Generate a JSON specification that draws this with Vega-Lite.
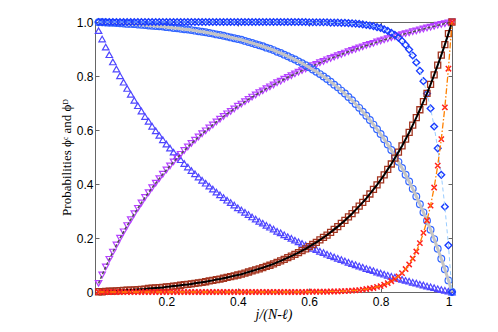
{
  "$schema": "https://vega.github.io/schema/vega-lite/v6.json",
  "autosize": "none",
  "padding": {"left": 95, "top": 22, "right": 46, "bottom": 40},
  "width": 357,
  "height": 270,
  "background": "white",
  "config": {
    "view": {"stroke": null},
    "point": {"opacity": 1},
    "axis": {
      "grid": false,
      "domainColor": "#666666",
      "tickColor": "#666666",
      "tickSize": -4,
      "labelFont": "Liberation Sans",
      "labelFontSize": 12,
      "labelColor": "#000000",
      "titleFont": "Liberation Serif",
      "titleFontSize": 13,
      "titleFontWeight": "normal",
      "titleColor": "#000000"
    }
  },
  "data": {"values": [
    {"x":0.01,"p":0.032,"t":0.968,"s":0.001,"c":0.999,"r":0,"d":1},
    {"x":0.02,"p":0.063,"t":0.937,"s":0.001,"c":0.999,"r":0,"d":1},
    {"x":0.03,"p":0.093,"t":0.907,"s":0.002,"c":0.998,"r":0,"d":1},
    {"x":0.04,"p":0.121,"t":0.879,"s":0.003,"c":0.997,"r":0,"d":1},
    {"x":0.05,"p":0.148,"t":0.852,"s":0.003,"c":0.997,"r":0,"d":1},
    {"x":0.06,"p":0.174,"t":0.826,"s":0.004,"c":0.996,"r":0,"d":1},
    {"x":0.07,"p":0.199,"t":0.801,"s":0.005,"c":0.995,"r":0,"d":1},
    {"x":0.08,"p":0.223,"t":0.777,"s":0.006,"c":0.994,"r":0,"d":1},
    {"x":0.09,"p":0.246,"t":0.754,"s":0.007,"c":0.993,"r":0,"d":1},
    {"x":0.10,"p":0.268,"t":0.732,"s":0.007,"c":0.993,"r":0,"d":1},
    {"x":0.11,"p":0.290,"t":0.710,"s":0.008,"c":0.992,"r":0,"d":1},
    {"x":0.12,"p":0.310,"t":0.690,"s":0.009,"c":0.991,"r":0,"d":1},
    {"x":0.13,"p":0.330,"t":0.670,"s":0.010,"c":0.990,"r":0,"d":1},
    {"x":0.14,"p":0.350,"t":0.650,"s":0.011,"c":0.989,"r":0,"d":1},
    {"x":0.15,"p":0.368,"t":0.632,"s":0.013,"c":0.987,"r":0,"d":1},
    {"x":0.16,"p":0.386,"t":0.614,"s":0.014,"c":0.986,"r":0,"d":1},
    {"x":0.17,"p":0.403,"t":0.597,"s":0.015,"c":0.985,"r":0,"d":1},
    {"x":0.18,"p":0.420,"t":0.580,"s":0.016,"c":0.984,"r":0,"d":1},
    {"x":0.19,"p":0.436,"t":0.564,"s":0.017,"c":0.983,"r":0,"d":1},
    {"x":0.20,"p":0.452,"t":0.548,"s":0.019,"c":0.981,"r":0,"d":1},
    {"x":0.21,"p":0.467,"t":0.533,"s":0.020,"c":0.980,"r":0,"d":1},
    {"x":0.22,"p":0.482,"t":0.518,"s":0.022,"c":0.978,"r":0,"d":1},
    {"x":0.23,"p":0.496,"t":0.504,"s":0.023,"c":0.977,"r":0,"d":1},
    {"x":0.24,"p":0.510,"t":0.490,"s":0.025,"c":0.975,"r":0,"d":1},
    {"x":0.25,"p":0.524,"t":0.476,"s":0.027,"c":0.973,"r":0,"d":1},
    {"x":0.26,"p":0.537,"t":0.463,"s":0.028,"c":0.972,"r":0,"d":1},
    {"x":0.27,"p":0.550,"t":0.450,"s":0.030,"c":0.970,"r":0,"d":1},
    {"x":0.28,"p":0.562,"t":0.438,"s":0.032,"c":0.968,"r":0,"d":1},
    {"x":0.29,"p":0.574,"t":0.426,"s":0.034,"c":0.966,"r":0,"d":1},
    {"x":0.30,"p":0.586,"t":0.414,"s":0.036,"c":0.964,"r":0,"d":1},
    {"x":0.31,"p":0.597,"t":0.403,"s":0.038,"c":0.962,"r":0,"d":1},
    {"x":0.32,"p":0.608,"t":0.392,"s":0.041,"c":0.959,"r":0,"d":1},
    {"x":0.33,"p":0.619,"t":0.381,"s":0.043,"c":0.957,"r":0,"d":1},
    {"x":0.34,"p":0.630,"t":0.370,"s":0.046,"c":0.954,"r":0,"d":1},
    {"x":0.35,"p":0.640,"t":0.360,"s":0.048,"c":0.952,"r":0,"d":1},
    {"x":0.36,"p":0.650,"t":0.350,"s":0.051,"c":0.949,"r":0,"d":1},
    {"x":0.37,"p":0.660,"t":0.340,"s":0.054,"c":0.946,"r":0,"d":1},
    {"x":0.38,"p":0.669,"t":0.331,"s":0.057,"c":0.943,"r":0,"d":1},
    {"x":0.39,"p":0.678,"t":0.322,"s":0.060,"c":0.940,"r":0,"d":1},
    {"x":0.40,"p":0.688,"t":0.312,"s":0.063,"c":0.937,"r":0,"d":1},
    {"x":0.41,"p":0.696,"t":0.304,"s":0.066,"c":0.934,"r":0,"d":1},
    {"x":0.42,"p":0.705,"t":0.295,"s":0.070,"c":0.930,"r":0,"d":1},
    {"x":0.43,"p":0.713,"t":0.287,"s":0.074,"c":0.926,"r":0,"d":1},
    {"x":0.44,"p":0.722,"t":0.278,"s":0.078,"c":0.922,"r":0,"d":1},
    {"x":0.45,"p":0.730,"t":0.270,"s":0.082,"c":0.918,"r":0,"d":1},
    {"x":0.46,"p":0.738,"t":0.262,"s":0.086,"c":0.914,"r":0,"d":1},
    {"x":0.47,"p":0.745,"t":0.255,"s":0.090,"c":0.910,"r":0,"d":1},
    {"x":0.48,"p":0.753,"t":0.247,"s":0.095,"c":0.905,"r":0,"d":1},
    {"x":0.49,"p":0.760,"t":0.240,"s":0.099,"c":0.901,"r":0,"d":1},
    {"x":0.50,"p":0.767,"t":0.233,"s":0.104,"c":0.896,"r":0,"d":1},
    {"x":0.51,"p":0.775,"t":0.225,"s":0.110,"c":0.890,"r":0,"d":1},
    {"x":0.52,"p":0.781,"t":0.219,"s":0.115,"c":0.885,"r":0,"d":1},
    {"x":0.53,"p":0.788,"t":0.212,"s":0.121,"c":0.879,"r":0,"d":1},
    {"x":0.54,"p":0.795,"t":0.205,"s":0.127,"c":0.873,"r":0,"d":1},
    {"x":0.55,"p":0.801,"t":0.199,"s":0.133,"c":0.867,"r":0,"d":1},
    {"x":0.56,"p":0.808,"t":0.192,"s":0.139,"c":0.861,"r":0,"d":1},
    {"x":0.57,"p":0.814,"t":0.186,"s":0.146,"c":0.854,"r":0,"d":1},
    {"x":0.58,"p":0.820,"t":0.180,"s":0.153,"c":0.847,"r":0,"d":1},
    {"x":0.59,"p":0.826,"t":0.174,"s":0.160,"c":0.840,"r":0,"d":1},
    {"x":0.60,"p":0.832,"t":0.168,"s":0.168,"c":0.832,"r":0.001,"d":0.999},
    {"x":0.61,"p":0.838,"t":0.162,"s":0.176,"c":0.824,"r":0.001,"d":0.999},
    {"x":0.62,"p":0.843,"t":0.157,"s":0.184,"c":0.816,"r":0.001,"d":0.999},
    {"x":0.63,"p":0.849,"t":0.151,"s":0.193,"c":0.807,"r":0.001,"d":0.999},
    {"x":0.64,"p":0.854,"t":0.146,"s":0.202,"c":0.798,"r":0.001,"d":0.999},
    {"x":0.65,"p":0.860,"t":0.140,"s":0.211,"c":0.789,"r":0.001,"d":0.999},
    {"x":0.66,"p":0.865,"t":0.135,"s":0.221,"c":0.779,"r":0.002,"d":0.998},
    {"x":0.67,"p":0.870,"t":0.130,"s":0.232,"c":0.768,"r":0.002,"d":0.998},
    {"x":0.68,"p":0.875,"t":0.125,"s":0.242,"c":0.758,"r":0.002,"d":0.998},
    {"x":0.69,"p":0.880,"t":0.120,"s":0.254,"c":0.746,"r":0.003,"d":0.997},
    {"x":0.70,"p":0.885,"t":0.115,"s":0.265,"c":0.735,"r":0.003,"d":0.997},
    {"x":0.71,"p":0.890,"t":0.110,"s":0.278,"c":0.722,"r":0.004,"d":0.996},
    {"x":0.72,"p":0.895,"t":0.105,"s":0.290,"c":0.710,"r":0.005,"d":0.995},
    {"x":0.73,"p":0.899,"t":0.101,"s":0.304,"c":0.696,"r":0.006,"d":0.994},
    {"x":0.74,"p":0.904,"t":0.096,"s":0.318,"c":0.682,"r":0.007,"d":0.993},
    {"x":0.75,"p":0.908,"t":0.092,"s":0.332,"c":0.668,"r":0.009,"d":0.991},
    {"x":0.76,"p":0.913,"t":0.087,"s":0.347,"c":0.653,"r":0.011,"d":0.989},
    {"x":0.77,"p":0.917,"t":0.083,"s":0.363,"c":0.637,"r":0.013,"d":0.987},
    {"x":0.78,"p":0.921,"t":0.079,"s":0.380,"c":0.620,"r":0.015,"d":0.985},
    {"x":0.79,"p":0.926,"t":0.074,"s":0.397,"c":0.603,"r":0.019,"d":0.981},
    {"x":0.80,"p":0.930,"t":0.070,"s":0.415,"c":0.585,"r":0.022,"d":0.978},
    {"x":0.81,"p":0.934,"t":0.066,"s":0.434,"c":0.566,"r":0.027,"d":0.973},
    {"x":0.82,"p":0.938,"t":0.062,"s":0.454,"c":0.546,"r":0.033,"d":0.967},
    {"x":0.83,"p":0.942,"t":0.058,"s":0.474,"c":0.526,"r":0.040,"d":0.960},
    {"x":0.84,"p":0.945,"t":0.055,"s":0.496,"c":0.504,"r":0.048,"d":0.952},
    {"x":0.85,"p":0.949,"t":0.051,"s":0.518,"c":0.482,"r":0.058,"d":0.942},
    {"x":0.86,"p":0.953,"t":0.047,"s":0.541,"c":0.459,"r":0.070,"d":0.930},
    {"x":0.87,"p":0.957,"t":0.043,"s":0.566,"c":0.434,"r":0.085,"d":0.915},
    {"x":0.88,"p":0.960,"t":0.040,"s":0.591,"c":0.409,"r":0.102,"d":0.898},
    {"x":0.89,"p":0.964,"t":0.036,"s":0.618,"c":0.382,"r":0.124,"d":0.876},
    {"x":0.90,"p":0.967,"t":0.033,"s":0.646,"c":0.354,"r":0.150,"d":0.850},
    {"x":0.91,"p":0.971,"t":0.029,"s":0.675,"c":0.325,"r":0.181,"d":0.819},
    {"x":0.92,"p":0.974,"t":0.026,"s":0.705,"c":0.295,"r":0.219,"d":0.781},
    {"x":0.93,"p":0.978,"t":0.022,"s":0.736,"c":0.264,"r":0.265,"d":0.735},
    {"x":0.94,"p":0.981,"t":0.019,"s":0.769,"c":0.231,"r":0.320,"d":0.680},
    {"x":0.95,"p":0.984,"t":0.016,"s":0.804,"c":0.196,"r":0.387,"d":0.613},
    {"x":0.96,"p":0.988,"t":0.012,"s":0.840,"c":0.160,"r":0.468,"d":0.532},
    {"x":0.97,"p":0.991,"t":0.009,"s":0.877,"c":0.123,"r":0.566,"d":0.434},
    {"x":0.98,"p":0.994,"t":0.006,"s":0.916,"c":0.084,"r":0.684,"d":0.316},
    {"x":0.99,"p":0.997,"t":0.003,"s":0.957,"c":0.043,"r":0.827,"d":0.173},
    {"x":1.00,"p":1,"t":0,"s":1,"c":0,"r":1,"d":0}
  ]},
  "encoding": {
    "x": {"field": "x", "type": "quantitative", "scale": {"domain": [0, 1], "nice": false}, "axis": null}
  },
  "resolve": {"axis": {"x": "independent", "y": "independent"}},
  "layer": [
    {
      "mark": {"type": "point", "opacity": 0},
      "encoding": {
        "x": {"field": "x", "type": "quantitative", "scale": {"domain": [0, 1], "nice": false},
              "axis": {"orient": "top", "labels": false, "title": null, "values": [0.2, 0.4, 0.6, 0.8, 1]}},
        "y": {"field": "p", "type": "quantitative", "scale": {"domain": [0, 1], "nice": false},
              "axis": {"orient": "right", "labels": false, "title": null, "values": [0, 0.2, 0.4, 0.6, 0.8, 1]}}
      }
    },
    {
      "mark": {"type": "point", "shape": "triangle-up", "filled": false, "size": 42, "strokeWidth": 1.2, "color": "#4f46ff", "opacity": 1, "clip": false},
      "encoding": {
        "x": {"field": "x", "type": "quantitative", "scale": {"domain": [0, 1], "nice": false},
              "axis": {"orient": "bottom", "title": "j/(N-ℓ)", "titleFontStyle": "italic", "titleBaseline": "alphabetic", "titleY": 26, "titleFontSize": 14,
                       "values": [0.2, 0.4, 0.6, 0.8, 1], "labelPadding": 8,
                       "labelExpr": "datum.value == 1 ? '1' : format(datum.value, '.1f')"}},
        "y": {"field": "t", "type": "quantitative", "scale": {"domain": [0, 1], "nice": false},
              "axis": {"orient": "left", "title": "Probabilities ϕᶜ and ϕᴰ", "titleBaseline": "alphabetic", "titleX": -25,
                       "values": [0, 0.2, 0.4, 0.6, 0.8, 1], "labelPadding": 6,
                       "labelExpr": "datum.value == 0 ? '0' : format(datum.value, '.1f')"}}
      }
    },
    {
      "mark": {"type": "point", "shape": "triangle-down", "filled": false, "size": 42, "strokeWidth": 1.2, "color": "#b540ff", "opacity": 1, "clip": false},
      "encoding": {"y": {"field": "p", "type": "quantitative", "scale": {"domain": [0, 1]}, "axis": null}}
    },
    {
      "mark": {"type": "line", "color": "#505050", "strokeWidth": 1.5, "strokeDash": [3, 2]},
      "encoding": {"y": {"field": "p", "type": "quantitative", "scale": {"domain": [0, 1]}, "axis": null}}
    },
    {
      "mark": {"type": "point", "shape": "circle", "filled": false, "size": 45, "strokeWidth": 1.2, "color": "#3366ff", "opacity": 1, "clip": false},
      "encoding": {"y": {"field": "c", "type": "quantitative", "scale": {"domain": [0, 1]}, "axis": null}}
    },
    {
      "mark": {"type": "line", "color": "#c4c4c4", "strokeWidth": 3},
      "encoding": {"y": {"field": "c", "type": "quantitative", "scale": {"domain": [0, 1]}, "axis": null}}
    },
    {
      "mark": {"type": "point", "shape": "diamond", "filled": false, "size": 45, "strokeWidth": 1.4, "color": "#1a3cff", "opacity": 1, "clip": false},
      "encoding": {"y": {"field": "d", "type": "quantitative", "scale": {"domain": [0, 1]}, "axis": null}}
    },
    {
      "mark": {"type": "line", "color": "#99ccff", "strokeWidth": 1, "strokeDash": [4, 3]},
      "encoding": {"y": {"field": "d", "type": "quantitative", "scale": {"domain": [0, 1]}, "axis": null}}
    },
    {
      "mark": {"type": "point", "shape": "square", "filled": false, "size": 36, "strokeWidth": 1.3, "color": "#a3341f", "opacity": 1, "clip": false},
      "encoding": {"y": {"field": "s", "type": "quantitative", "scale": {"domain": [0, 1]}, "axis": null}}
    },
    {
      "mark": {"type": "line", "color": "#000000", "strokeWidth": 2},
      "encoding": {"y": {"field": "s", "type": "quantitative", "scale": {"domain": [0, 1]}, "axis": null}}
    },
    {
      "mark": {"type": "point", "shape": "M-1,-1L1,1M-1,1L1,-1", "filled": false, "size": 28, "strokeWidth": 1.5, "color": "#ff2020", "opacity": 1, "clip": false},
      "encoding": {"y": {"field": "r", "type": "quantitative", "scale": {"domain": [0, 1]}, "axis": null}}
    },
    {
      "mark": {"type": "line", "color": "#ff8000", "strokeWidth": 1.3, "strokeDash": [6, 2, 1.5, 2]},
      "encoding": {"y": {"field": "r", "type": "quantitative", "scale": {"domain": [0, 1]}, "axis": null}}
    }
  ]
}
